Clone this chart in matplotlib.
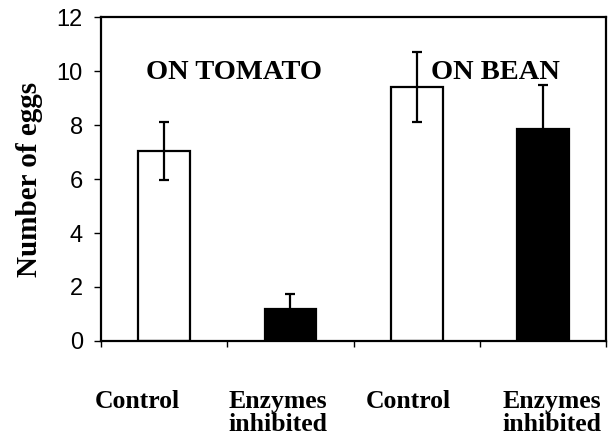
import numpy as np
import matplotlib
matplotlib.use("Agg")
import matplotlib.pyplot as plt
import matplotlib.transforms as mtransforms

# values
means = [7.04, 1.19, 9.40, 7.85]
errors = [1.06, 0.54, 1.30, 1.63]
colors = ["white", "black", "white", "black"]
labels = ["Control", "Enzymes\ninhibited", "Control", "Enzymes\ninhibited"]
label_x = [-0.21, 0.90, 1.93, 3.07]
groups = ["ON TOMATO", "ON BEAN"]
group_x = [0.55, 2.62]
group_y = [9.95, 9.95]

fig = plt.figure(figsize=(6.08, 4.37), dpi=100)
ax = fig.add_axes([0.166, 0.2197, 0.831, 0.7413])

x = np.arange(len(means))
ax.bar(x, means, width=0.41, color=colors, edgecolor="black", linewidth=1.6, zorder=2)
ax.errorbar(x, means, yerr=errors, fmt="none", ecolor="black", elinewidth=1.6,
            capsize=3.6, capthick=1.6, zorder=3)

ax.set_xlim(-0.5, 3.5)
ax.set_ylim(0, 12)
ax.set_yticks(range(0, 13, 2))
ax.set_xticks(np.arange(-0.5, 4.0, 1.0))
ax.set_xticklabels([])
for s in ax.spines.values():
    s.set_linewidth(1.6)
ax.tick_params(axis="y", direction="out", length=5, width=1, pad=8,
               labelsize=17, labelfontfamily="Liberation Sans")
ax.tick_params(axis="x", direction="out", length=4, width=1)

ax.set_ylabel("Number of eggs", fontsize=21, fontweight="bold",
              family="Liberation Serif", labelpad=10)

trans = mtransforms.blended_transform_factory(ax.transData, ax.transAxes)
for lx, lab in zip(label_x, labels):
    ax.text(lx, -0.152, lab, transform=trans, ha="center", va="top",
            fontsize=18.5, fontweight="bold", family="Liberation Serif",
            linespacing=0.96)

for gx, gy, g in zip(group_x, group_y, groups):
    ax.text(gx, gy, g, ha="center", va="center", fontsize=20.5,
            fontweight="bold", family="Liberation Serif", zorder=4)

fig.savefig("out.png", dpi=100)
